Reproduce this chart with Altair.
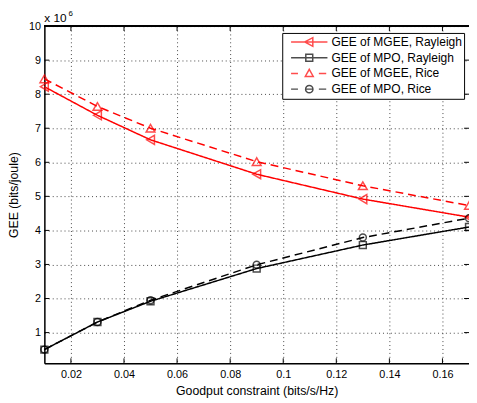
import altair as alt
import pandas as pd

# ---- data ----
goodput = [0.01, 0.03, 0.05, 0.09, 0.13, 0.17]
mgee_rayleigh = [8.22, 7.38, 6.66, 5.65, 4.92, 4.39]
mpo_rayleigh = [0.50, 1.31, 1.92, 2.88, 3.57, 4.10]
mgee_rice = [8.45, 7.64, 7.00, 6.02, 5.31, 4.73]
mpo_rice = [0.50, 1.31, 1.95, 2.99, 3.79, 4.36]

series_names = ["GEE of MGEE, Rayleigh", "GEE of MPO, Rayleigh",
                "GEE of MGEE, Rice", "GEE of MPO, Rice"]
series_values = [mgee_rayleigh, mpo_rayleigh, mgee_rice, mpo_rice]
series_colors = ["#ff0000", "#000000", "#ff0000", "#000000"]
series_dash = [[1, 0], [1, 0], [8, 5], [8, 5]]
series_shapes = ["triangle-left", "square", "triangle-up", "circle"]
series_sizes = [85, 49, 80, 50]

x_ticks = [0.02, 0.04, 0.06, 0.08, 0.10, 0.12, 0.14, 0.16]
y_ticks = [1, 2, 3, 4, 5, 6, 7, 8, 9, 10]

rows = []
for name, vals in zip(series_names, series_values):
    for gx, gy in zip(goodput, vals):
        rows.append({"goodput": gx, "gee": gy, "series": name})
df = pd.DataFrame(rows)
xt_df = pd.DataFrame({"goodput": x_ticks})
yt_df = pd.DataFrame({"gee": y_ticks})

W, H = 432, 343
FONT = "Liberation Sans"

xscale = alt.Scale(domain=[0.01, 0.17], nice=False, zero=False)
yscale = alt.Scale(domain=[0.1, 10], nice=False, zero=False)

grid_kw = dict(grid=True, gridDash=[1, 3], gridColor="#444444", gridWidth=1,
               tickSize=0, domainColor="black", domainWidth=1.5, labelOverlap=False,
               labelFont=FONT, labelFontSize=11, labelColor="black",
               titleFont=FONT, titleFontSize=12.5, titleFontWeight="normal",
               titleColor="black")

x_axis = alt.Axis(values=x_ticks, format="~g", labelPadding=6,
                  title="Goodput constraint (bits/s/Hz)",
                  titleY=28, titleBaseline="middle", **grid_kw)
y_axis = alt.Axis(values=y_ticks, format="d", labelPadding=4,
                  title="GEE (bits/joule)", titleAngle=270,
                  titleX=-31, titleY=H / 2, titleAlign="center",
                  titleBaseline="middle", **grid_kw)


def xe():
    return alt.X("goodput:Q", scale=xscale, axis=x_axis)


def ye():
    return alt.Y("gee:Q", scale=yscale, axis=y_axis)


lines = alt.Chart(df).mark_line(strokeWidth=1.5, clip=False).encode(
    x=xe(), y=ye(),
    color=alt.Color("series:N", scale=alt.Scale(domain=series_names, range=series_colors), legend=None),
    strokeDash=alt.StrokeDash("series:N", scale=alt.Scale(domain=series_names, range=series_dash), legend=None),
)

point_layers = []
for name, shp, col, sz in zip(series_names, series_shapes, series_colors, series_sizes):
    point_layers.append(
        alt.Chart(df).transform_filter(alt.datum.series == name)
        .mark_point(shape=shp, size=sz, color=col, filled=False, strokeWidth=1.5, clip=False)
        .encode(x=xe(), y=ye())
    )

# legend glyphs: line + marker drawn as one symbol path
legend_paths = [
    "M-0.705,0L0.977,0M-0.07,0L0.3,-0.2L0.3,0.2Z",
    "M-0.705,0L0.977,0M-0.024,-0.16L0.296,-0.16L0.296,0.16L-0.024,0.16Z",
    "M-0.705,0L-0.386,0M0.58,0L0.92,0M0.136,-0.19L0.32,0.14L-0.048,0.14Z",
    "M-0.705,0L-0.386,0M0.58,0L0.92,0M-0.034,0L0.306,0M0.306,0A0.17,0.17 0 1,1 -0.034,0A0.17,0.17 0 1,1 0.306,0Z",
]
leg = alt.Legend(orient="none", legendX=242, legendY=7, title=None,
                 labelFont=FONT, labelFontSize=12.2, labelColor="black",
                 symbolSize=44 * 44, symbolStrokeWidth=1.5,
                 symbolFillColor="transparent",
                 padding=1.5, strokeColor="black", fillColor="white",
                 clipHeight=15.3, rowPadding=0, labelOffset=2.5, labelLimit=300)
legend_layer = alt.Chart(df).transform_filter("false").mark_point(filled=False, strokeWidth=1.5).encode(
    x=xe(), y=ye(),
    shape=alt.Shape("series:N", scale=alt.Scale(domain=series_names, range=legend_paths), legend=leg),
    stroke=alt.Stroke("series:N", scale=alt.Scale(domain=series_names, range=series_colors), legend=leg),
)

# inward ticks (MATLAB style box)
tick_len = 5
bot_ticks = alt.Chart(xt_df).mark_rule(color="black", strokeWidth=1).encode(
    x=xe(), y=alt.value(H), y2=alt.value(H - tick_len))
top_ticks = alt.Chart(xt_df).mark_rule(color="black", strokeWidth=1).encode(
    x=xe(), y=alt.value(0), y2=alt.value(tick_len))
left_ticks = alt.Chart(yt_df).mark_rule(color="black", strokeWidth=1).encode(
    y=ye(), x=alt.value(0), x2=alt.value(tick_len))
right_ticks = alt.Chart(yt_df).mark_rule(color="black", strokeWidth=1).encode(
    y=ye(), x=alt.value(W - tick_len), x2=alt.value(W))
top_border = alt.Chart(xt_df).mark_rule(color="black", strokeWidth=1.5).encode(
    x=alt.value(0), x2=alt.value(W), y=alt.value(0))

exp_base = alt.Chart(pd.DataFrame({"t": ["x 10"]})).mark_text(
    align="left", baseline="middle", font=FONT, fontSize=12, color="black"
).encode(x=alt.value(0), y=alt.value(-8), text="t:N")
exp_sup = alt.Chart(pd.DataFrame({"t": ["6"]})).mark_text(
    align="left", baseline="middle", font=FONT, fontSize=8, color="black"
).encode(x=alt.value(24.5), y=alt.value(-12.5), text="t:N")

chart = alt.layer(
    lines, *point_layers, legend_layer,
    bot_ticks, top_ticks, left_ticks, right_ticks, top_border,
    exp_base, exp_sup,
).resolve_scale(color="independent", stroke="independent", shape="independent").properties(
    width=W, height=H,
    autosize=alt.AutoSizeParams(type="none"),
    padding={"left": 37, "top": 15, "right": 0, "bottom": 33},
).configure_view(stroke=None).configure(background="white")

chart.save("out.html", embed_options={"renderer": "svg", "actions": False})
